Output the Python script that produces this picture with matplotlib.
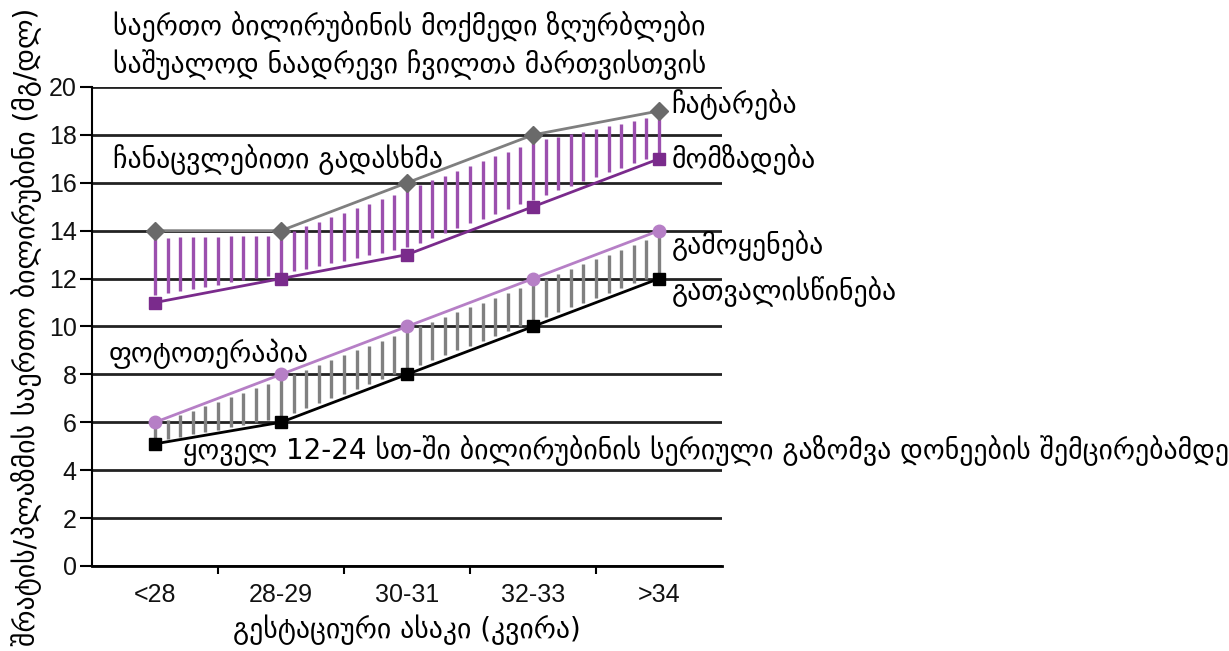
import matplotlib
matplotlib.use('Agg')
import matplotlib.pyplot as plt
import numpy as np

# gestational age groups
categories = ['<28', '28-29', '30-31', '32-33', '>34']
# total bilirubin thresholds, mg/dl
exchange_perform = [14, 14, 16, 18, 19]      # ჩატარება
exchange_prepare = [11, 12, 13, 15, 17]      # მომზადება
photo_use = [6, 8, 10, 12, 14]               # გამოყენება
photo_consider = [5.1, 6, 8, 10, 12]         # გათვალისწინება

plt.rcParams['font.family'] = ['DejaVu Sans']

fig = plt.figure(figsize=(12.29, 6.51), dpi=100)
ax = fig.add_axes([0.0749, 0.1306, 0.5126, 0.7358])

x = np.arange(len(categories))

# vertical hatching between threshold pairs
xs = np.arange(0, 4.001, 0.1)
top1 = np.interp(xs, x, exchange_perform)
bot1 = np.interp(xs, x, exchange_prepare)
gap1 = 0.1 * (top1 - bot1)
ax.vlines(xs, bot1 + gap1, top1 - gap1, color='#9b4fae', lw=2.4, zorder=2)
top2 = np.interp(xs, x, photo_use)
bot2 = np.interp(xs, x, photo_consider)
gap2 = 0.1 * (top2 - bot2)
ax.vlines(xs, bot2 + gap2, top2 - gap2, color='#808080', lw=2.4, zorder=2)

ax.plot(x, exchange_perform, color='#7f7f7f', lw=2, marker='D', ms=9,
        mfc='#6a6a6a', mec='#6a6a6a', zorder=4)
ax.plot(x, exchange_prepare, color='#7a2b8c', lw=2, marker='s', ms=9,
        mfc='#7a2b8c', mec='#7a2b8c', zorder=4)
ax.plot(x, photo_use, color='#b67fc6', lw=2, marker='o', ms=9,
        mfc='#b67fc6', mec='#b67fc6', zorder=4)
ax.plot(x, photo_consider, color='black', lw=2, marker='s', ms=9,
        mfc='black', mec='black', zorder=4)

ax.set_xlim(-0.5, 4.5)
ax.set_ylim(0, 20)
ax.set_yticks(range(0, 21, 2))
ax.set_xticks(x, categories)
ax.set_xticks(np.arange(0.5, 4, 1), minor=True)
ax.tick_params(axis='both', which='major', labelsize=18,
               labelfontfamily='Liberation Sans', labelcolor='#111111')
ax.tick_params(axis='x', which='major', length=0, pad=12)
ax.tick_params(axis='x', which='minor', length=6, width=1.5, direction='out')
ax.tick_params(axis='y', length=9, width=1.5, direction='out', pad=2)
ax.grid(axis='y', color='#222222', lw=2)
ax.set_axisbelow(True)
ax.spines['top'].set_visible(False)
ax.spines['right'].set_visible(False)
ax.spines['left'].set_linewidth(1.5)
ax.spines['bottom'].set_linewidth(2)

fs = 20
ax.set_xlabel('გესტაციური ასაკი (კვირა)', fontsize=fs, labelpad=6)
ax.set_ylabel('შრატის/პლაზმის საერთო ბილირუბინი (მგ/დლ)', fontsize=fs, labelpad=5)

fig.text(113 / 1229, 1 - 27 / 651, 'საერთო ბილირუბინის მოქმედი ზღურბლები',
         fontsize=fs, va='center', ha='left')
fig.text(113 / 1229, 1 - 65 / 651, 'საშუალოდ ნაადრევი ჩვილთა მართვისთვის',
         fontsize=fs, va='center', ha='left')

ax.text(4.1, 19.25, 'ჩატარება', fontsize=fs, va='center')
ax.text(4.1, 16.95, 'მომზადება', fontsize=fs, va='center')
ax.text(-0.33, 16.95, 'ჩანაცვლებითი გადასხმა', fontsize=fs, va='center')
ax.text(4.1, 13.36, 'გამოყენება', fontsize=fs, va='center')
ax.text(4.1, 11.44, 'გათვალისწინება', fontsize=fs, va='center')
ax.text(-0.37, 8.85, 'ფოტოთერაპია', fontsize=fs, va='center')
ax.text(0.22, 4.84, 'ყოველ 12-24 სთ-ში ბილირუბინის სერიული გაზომვა დონეების შემცირებამდე',
        fontsize=fs, va='center', clip_on=False)

fig.savefig('out.png', dpi=100)
